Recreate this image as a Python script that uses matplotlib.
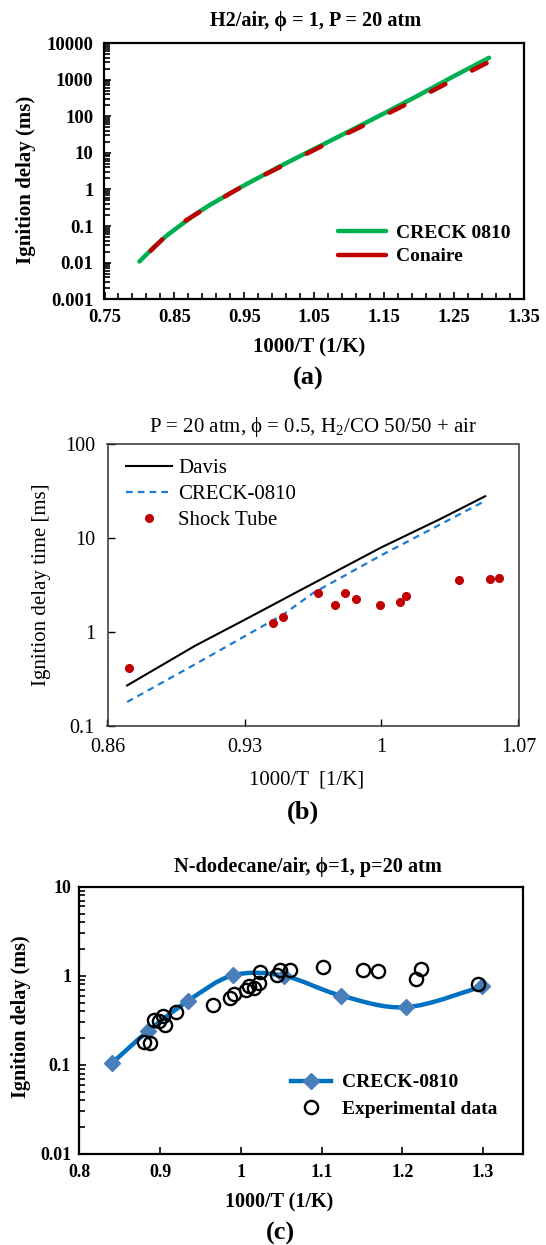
import numpy as np
import matplotlib
matplotlib.use('Agg')
import matplotlib.pyplot as plt
from matplotlib.lines import Line2D
from matplotlib.path import Path
from matplotlib.patches import PathPatch
from matplotlib.ticker import FuncFormatter, NullFormatter, LogLocator

plt.rcParams['font.family'] = ['Liberation Serif', 'DejaVu Serif']
plt.rcParams['mathtext.fontset'] = 'custom'
plt.rcParams['mathtext.rm'] = 'Liberation Serif'

# ---- panel (a) data: H2/air
a_creck_x = [0.80, 0.82, 0.84, 0.86, 0.88, 0.90, 0.925, 0.95, 1.00, 1.05, 1.10, 1.15, 1.20, 1.25, 1.30]
a_creck_y = [0.0108, 0.026, 0.057, 0.11, 0.21, 0.37, 0.70, 1.3, 4.2, 12.8, 39, 120, 380, 1250, 3950]
a_conaire_x = [0.816, 0.835, 0.86, 0.884, 0.909, 0.933, 0.96, 1.00, 1.05, 1.10, 1.15, 1.20, 1.25, 1.30]
a_conaire_y = [0.021, 0.048, 0.12, 0.23, 0.45, 0.85, 1.65, 4.0, 12, 36, 105, 320, 1000, 3050]
a_xticks = [0.75, 0.85, 0.95, 1.05, 1.15, 1.25, 1.35]

# ---- panel (b) data: H2/CO
b_davis_x = [0.87, 0.905, 0.93, 0.96, 1.00, 1.03, 1.053]
b_davis_y = [0.27, 0.72, 1.35, 2.9, 8.0, 16, 28]
b_creck_x = [0.87, 0.90, 0.93, 0.95, 0.965, 1.00, 1.03, 1.053]
b_creck_y = [0.18, 0.40, 0.90, 1.55, 2.6, 6.6, 14, 25]
b_shock_x = [0.871, 0.9445, 0.9498, 0.9676, 0.9763, 0.9812, 0.9871, 0.999, 1.0097, 1.0127, 1.0395, 1.0555, 1.0602]
b_shock_y = [0.41, 1.26, 1.46, 2.59, 1.95, 2.59, 2.23, 1.95, 2.08, 2.43, 3.59, 3.65, 3.74]
b_xticks = [0.86, 0.93, 1.0, 1.07]

# ---- panel (c) data: n-dodecane
c_creck_x = [0.840, 0.885, 0.935, 0.990, 1.053, 1.124, 1.205, 1.299]
c_creck_y = [0.104, 0.239, 0.526, 1.01, 1.0, 0.60, 0.444, 0.76]
c_exp_x = [0.880, 0.888, 0.893, 0.899, 0.903, 0.906, 0.920, 0.965, 0.986, 0.992, 1.007,
           1.010, 1.016, 1.023, 1.024, 1.045, 1.049, 1.061, 1.102, 1.152, 1.170, 1.217, 1.223, 1.294]
c_exp_y = [0.180, 0.174, 0.323, 0.309, 0.352, 0.277, 0.39, 0.475, 0.564, 0.63, 0.70,
           0.76, 0.73, 0.83, 1.09, 1.03, 1.17, 1.17, 1.27, 1.17, 1.12, 0.92, 1.19, 0.81]
c_xticks = [0.8, 0.9, 1.0, 1.1, 1.2, 1.3]

W, H = 546, 1245
fig = plt.figure(figsize=(W / 100, H / 100), dpi=100)


def box(l, r, t, b):
    return [l / W, 1 - b / H, (r - l) / W, (b - t) / H]


def ftext(x, y, s, **kw):
    fig.text(x / W, 1 - y / H, s, ha='center', va='center', **kw)


gfmt = FuncFormatter(lambda v, p: '%g' % v)

# ================= (a)
ax1 = fig.add_axes(box(104.5, 524, 43, 299.3))
ax1.set_yscale('log')
ax1.plot(a_creck_x, a_creck_y, color='#00B050', lw=3.2, solid_capstyle='round', solid_joinstyle='round')
ax1.plot(a_conaire_x, a_conaire_y, color='#C00000', lw=3.2, dashes=(3.7, 6.7), dash_capstyle='round')
ax1.set_xlim(0.75, 1.35)
ax1.set_ylim(1e-3, 1e4)
ax1.set_xticks(a_xticks)
ax1.set_xticks(np.arange(0.77, 1.35, 0.02), minor=True)
ax1.xaxis.set_major_formatter(FuncFormatter(lambda v, p: '%.2f' % v))
ax1.yaxis.set_major_locator(LogLocator(base=10, numticks=20))
ax1.yaxis.set_minor_locator(LogLocator(base=10, subs=np.arange(2, 10), numticks=20))
ax1.yaxis.set_major_formatter(gfmt)
ax1.yaxis.set_minor_formatter(NullFormatter())
ax1.tick_params(which='both', direction='in', top=False, right=False, width=1.2)
ax1.tick_params(which='major', length=5)
ax1.tick_params(which='minor', length=4)
ax1.tick_params(axis='y', pad=8)
ax1.tick_params(axis='x', pad=7)
for lab in ax1.get_xticklabels() + ax1.get_yticklabels():
    lab.set_fontsize(13.5)
    lab.set_fontweight('bold')
for s in ax1.spines.values():
    s.set_linewidth(1.6)
h1 = [Line2D([], [], color='#00B050', lw=3.2, solid_capstyle='round'),
      Line2D([], [], color='#C00000', lw=3.2, solid_capstyle='round')]
ax1.legend(h1, ['CRECK 0810', 'Conaire'], loc='center left', bbox_to_anchor=(0.557, 0.212),
           frameon=False, borderpad=0, borderaxespad=0, handlelength=2.45, handletextpad=0.55,
           labelspacing=0.3, prop={'weight': 'bold', 'size': 14})
ftext(316, 21, 'H2/air, ϕ = 1, P = 20 atm', fontsize=14.6, fontweight='bold')
ftext(309, 347, '1000/T (1/K)', fontsize=15, fontweight='bold')
ftext(308, 378, '(a)', fontsize=19, fontweight='bold')
ftext(26, 180, 'Ignition delay (ms)', fontsize=15, fontweight='bold', rotation=90)

# ================= (b)
ax2 = fig.add_axes(box(107.5, 518.5, 444.3, 726))
ax2.set_yscale('log')
ax2.plot(b_davis_x, b_davis_y, color='black', lw=1.5, label='Davis')
ax2.plot(b_creck_x, b_creck_y, color='#1F7BD0', lw=1.6, dashes=(3, 2.3), label='CRECK-0810')
ax2.plot(b_shock_x, b_shock_y, 'o', color='#C00000', ms=5.5, ls='none', label='Shock Tube')
ax2.set_xlim(0.86, 1.07)
ax2.set_ylim(0.1, 100)
ax2.set_xticks(b_xticks)
ax2.xaxis.set_major_formatter(gfmt)
ax2.yaxis.set_major_locator(LogLocator(base=10, numticks=10))
ax2.yaxis.set_minor_locator(plt.NullLocator())
ax2.yaxis.set_major_formatter(gfmt)
ax2.tick_params(which='both', direction='in', top=False, right=False, length=5, width=1.0,
                labelsize=14.5, pad=9)
for s in ax2.spines.values():
    s.set_linewidth(1.1)
    s.set_color('#333333')
ax2.legend(loc='center left', bbox_to_anchor=(0.045, 0.8225), frameon=False, borderpad=0,
           borderaxespad=0, handlelength=2.2, handletextpad=0.3, labelspacing=0.32,
           prop={'size': 15})
ftext(313, 427, 'P = 20 atm, ϕ = 0.5, H$_\\mathregular{2}$/CO 50/50 + air', fontsize=15)
ftext(306.5, 780, '1000/T  [1/K]', fontsize=15)
ftext(303, 812, '(b)', fontsize=19, fontweight='bold')
ftext(42, 585, 'Ignition delay time [ms]', fontsize=15, rotation=90)

# ================= (c)
ax3 = fig.add_axes(box(79.4, 523.3, 886.7, 1154))
ax3.set_yscale('log')
# smoothed line through the model points (Catmull-Rom -> Bezier in log space)
px = np.array(c_creck_x)
py = np.log10(c_creck_y)
n = len(px)
verts = [(px[0], 10 ** py[0])]
codes = [Path.MOVETO]
for i in range(n - 1):
    i0 = max(i - 1, 0)
    i3 = min(i + 2, n - 1)
    c1x = px[i] + (px[i + 1] - px[i0]) / 6
    c1y = py[i] + (py[i + 1] - py[i0]) / 6
    c2x = px[i + 1] - (px[i3] - px[i]) / 6
    c2y = py[i + 1] - (py[i3] - py[i]) / 6
    verts += [(c1x, 10 ** c1y), (c2x, 10 ** c2y), (px[i + 1], 10 ** py[i + 1])]
    codes += [Path.CURVE4] * 3
ax3.add_patch(PathPatch(Path(verts, codes), fill=False, edgecolor='#0070C0', lw=3.2,
                        capstyle='round', joinstyle='round'))
ax3.plot(c_creck_x, c_creck_y, 'D', color='#4A7EBB', ms=8, ls='none')
ax3.plot(c_exp_x, c_exp_y, 'o', mfc='none', mec='black', mew=1.7, ms=9.5, ls='none')
ax3.set_xlim(0.8, 1.35)
ax3.set_ylim(0.01, 10)
ax3.set_xticks(c_xticks)
ax3.xaxis.set_major_formatter(gfmt)
ax3.yaxis.set_major_locator(LogLocator(base=10, numticks=10))
ax3.yaxis.set_minor_locator(LogLocator(base=10, subs=np.arange(2, 10), numticks=10))
ax3.yaxis.set_major_formatter(gfmt)
ax3.yaxis.set_minor_formatter(NullFormatter())
ax3.tick_params(which='both', direction='in', top=False, right=False, width=1.2)
ax3.tick_params(which='major', length=5)
ax3.tick_params(which='minor', length=4)
ax3.tick_params(axis='y', pad=6)
ax3.tick_params(axis='x', pad=7)
for lab in ax3.get_xticklabels() + ax3.get_yticklabels():
    lab.set_fontsize(13)
    lab.set_fontweight('bold')
for s in ax3.spines.values():
    s.set_linewidth(1.6)
h3 = [Line2D([], [], color='#0070C0', lw=3.2, marker='D', mfc='#4A7EBB', mec='#4A7EBB', ms=8),
      Line2D([], [], ls='none', marker='o', mfc='none', mec='black', mew=1.7, ms=9.5)]
ax3.legend(h3, ['CRECK-0810', 'Experimental data'], loc='center left', bbox_to_anchor=(0.476, 0.218),
           frameon=False, borderpad=0, borderaxespad=0, handlelength=2.05, handletextpad=0.6,
           labelspacing=0.45, numpoints=1, prop={'weight': 'bold', 'size': 14})
ftext(307.5, 867, 'N-dodecane/air, ϕ=1, p=20 atm', fontsize=14.6, fontweight='bold')
ftext(279, 1202, '1000/T (1/K)', fontsize=14.5, fontweight='bold')
ftext(280, 1233, '(c)', fontsize=19, fontweight='bold')
ftext(21, 1017, 'Ignition delay (ms)', fontsize=14.5, fontweight='bold', rotation=90)

fig.savefig('out.png', dpi=100)
